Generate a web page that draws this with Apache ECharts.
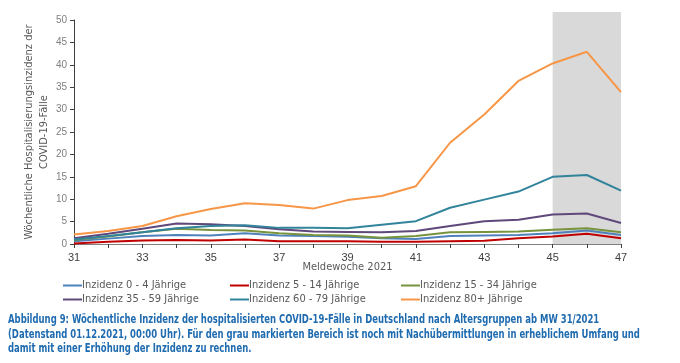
<!DOCTYPE html>
<html><head><meta charset="utf-8">
<script src="https://cdn.jsdelivr.net/npm/echarts@6/dist/echarts.min.js"></script>
<style>html,body{margin:0;padding:0;background:#fff}#c{width:680px;height:363px}</style>
</head><body><div id="c"></div>
<script>
const weeks = ['31','32','33','34','35','36','37','38','39','40','41','42','43','44','45','46','47'];
const yTicks = [0,5,10,15,20,25,30,35,40,45,50];
const names = ['Inzidenz 0 - 4 Jährige','Inzidenz 5 - 14 Jährige','Inzidenz 15 - 34 Jährige','Inzidenz 35 - 59 Jährige','Inzidenz 60 - 79 Jährige','Inzidenz 80+ Jährige'];
const age0_4   = [0.6,1.2,1.8,2.0,1.9,2.4,1.9,1.8,1.6,1.3,1.1,1.8,1.9,2.0,2.4,3.0,2.0];
const age5_14  = [0.1,0.5,0.8,0.9,0.8,1.0,0.6,0.6,0.6,0.5,0.5,0.6,0.7,1.3,1.7,2.3,1.3];
const age15_34 = [0.9,1.7,2.6,3.4,3.1,3.0,2.4,2.0,1.9,1.4,1.8,2.6,2.7,2.8,3.2,3.5,2.6];
const age35_59 = [1.3,2.3,3.4,4.6,4.4,4.0,3.3,2.8,2.7,2.6,2.9,4.0,5.1,5.4,6.6,6.8,4.7];
const age60_79 = [1.0,1.8,2.6,3.5,4.0,4.2,3.6,3.6,3.5,4.3,5.1,8.1,9.9,11.7,15.0,15.4,11.9];
const age80p   = [2.1,2.9,4.0,6.2,7.8,9.1,8.7,7.9,9.8,10.7,12.9,22.6,28.9,36.4,40.3,42.9,33.9];
const shadeFrom = '45', shadeTo = '47';
const colors = ['#4F81BD','#C00000','#77933C','#5F497A','#31849B','#F79646'];
const seriesData = [age0_4, age5_14, age15_34, age35_59, age60_79, age80p];

const caption = 'Abbildung 9: Wöchentliche Inzidenz der hospitalisierten COVID-19-Fälle in Deutschland nach Altersgruppen ab MW 31/2021\n(Datenstand 01.12.2021, 00:00 Uhr). Für den grau markierten Bereich ist noch mit Nachübermittlungen in erheblichem Umfang und\ndamit mit einer Erhöhung der Inzidenz zu rechnen.';

const chart = echarts.init(document.getElementById('c'), null, {renderer:'canvas'});
const legendBase = {orient:'vertical', icon:'rect', itemWidth:19, itemHeight:2, itemGap:3,
  textStyle:{color:'#595959', fontSize:11, fontFamily:'DejaVu Sans Condensed, Liberation Sans', padding:[0,0,0,-5]}, top:275};
const series = seriesData.map((d,i)=>{
  const s = {name:names[i], type:'line', data:d, symbol:'none', lineStyle:{width:2, color:colors[i]}, itemStyle:{color:colors[i]}, z:2+i};
  if(i===0){
    s.markArea = {silent:true, itemStyle:{color:'#D9D9D9'}, data:[[{xAxis:shadeFrom, y:12},{xAxis:shadeTo, yAxis:0}]]};
  }
  return s;
});
chart.setOption({
  animation:false,
  graphic:[{type:'text', x:8, y:313, scaleX:0.785, silent:true,
    style:{text:caption, fill:'#1F6BB0', font:'bold 12px "DejaVu Sans Condensed"', lineHeight:14.5}}],
  legend:[
    Object.assign({}, legendBase, {left:58, data:[names[0], names[3]]}),
    Object.assign({}, legendBase, {left:225, data:[names[1], names[4]]}),
    Object.assign({}, legendBase, {left:396, data:[names[2], names[5]]})
  ],
  grid:{left:74, right:59, top:20, bottom:119, containLabel:false},
  xAxis:{type:'category', data:weeks, boundaryGap:false,
    name:'Meldewoche 2021', nameLocation:'middle', nameGap:18, nameMoveOverlap:false,
    nameTextStyle:{color:'#595959', fontSize:11, fontFamily:'DejaVu Sans Condensed, Liberation Sans'},
    axisLine:{lineStyle:{color:'#7F7F7F', width:1}},
    axisTick:{show:true, interval:0, length:4, lineStyle:{color:'#404040'}},
    axisLabel:{interval:1, color:'#404040', fontSize:11, margin:8, fontFamily:'Liberation Sans'},
    splitLine:{show:false}},
  yAxis:{type:'value', min:yTicks[0], max:yTicks[yTicks.length-1], interval:5,
    name:'Wöchentliche Hospitalisierungsinzidenz der\nCOVID-19-Fälle', nameLocation:'middle', nameGap:22, nameRotate:90, nameMoveOverlap:false,
    nameTextStyle:{color:'#595959', fontSize:11, lineHeight:15, fontFamily:'DejaVu Sans Condensed, Liberation Sans'},
    axisLine:{show:true, lineStyle:{color:'#404040', width:1}},
    axisTick:{show:true, length:4, lineStyle:{color:'#404040'}},
    axisLabel:{color:'#7F7F7F', fontSize:10, margin:7, fontFamily:'Liberation Sans'},
    splitLine:{show:false}},
  series:series
});
</script></body></html>
